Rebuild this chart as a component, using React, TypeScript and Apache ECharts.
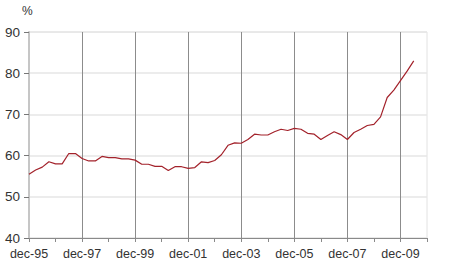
import React, { useEffect, useRef } from "react";
import * as echarts from "echarts";

const years = [95, 96, 97, 98, 99, 0, 1, 2, 3, 4, 5, 6, 7, 8, 9, 10];
const quarterMonths = ["mar", "jun", "sep", "dec"];
const yTicks = [40, 50, 60, 70, 80, 90];

// quarterly values, dec-95 .. jun-10
const values = [
  55.5, 56.5, 57.2, 58.5, 58.0, 58.0, 60.5, 60.5,
  59.3, 58.7, 58.7, 59.8, 59.5, 59.5, 59.2, 59.2,
  58.9, 57.9, 57.9, 57.4, 57.4, 56.4, 57.3, 57.3,
  56.9, 57.1, 58.5, 58.3, 58.8, 60.2, 62.5, 63.1,
  63.0, 63.9, 65.2, 65.0, 65.0, 65.8, 66.4, 66.1,
  66.6, 66.4, 65.4, 65.2, 63.9, 64.9, 65.8, 65.1,
  63.9, 65.6, 66.4, 67.3, 67.6, 69.4, 74.1, 75.9,
  78.2, 80.5, 83.0,
];

const pad = (y: number) => (y < 10 ? "0" + y : String(y));
const categories: string[] = ["dec-" + pad(years[0])];
for (let i = 1; i < years.length; i++) {
  for (const m of quarterMonths) categories.push(m + "-" + pad(years[i]));
}

export default function App() {
  const ref = useRef<HTMLDivElement>(null);
  useEffect(() => {
    if (!ref.current) return;
    const chart = echarts.init(ref.current, null, { renderer: "svg" });
    const font = "'Liberation Sans', Arial, sans-serif";
    chart.setOption({
      animation: false,
      title: {
        text: "%",
        left: 22,
        top: 5,
        padding: 0,
        textStyle: { fontSize: 12, fontWeight: "normal", color: "#333", fontFamily: font },
      },
      grid: {
        left: 29,
        right: 23,
        top: 32,
        bottom: 41,
        show: true,
        borderColor: "#e2e2e2",
        borderWidth: 1,
      },
      xAxis: {
        type: "category",
        data: categories,
        boundaryGap: false,
        axisLine: { lineStyle: { color: "#8a8a8a", width: 1 } },
        axisTick: { interval: 3, length: 4, lineStyle: { color: "#8a8a8a" } },
        axisLabel: {
          interval: 7,
          color: "#333",
          fontSize: 12.5,
          fontFamily: font,
          margin: 9,
        },
        splitLine: {
          show: true,
          interval: (idx: number) => idx % 8 === 0 && idx > 0,
          lineStyle: { color: "#8c8c8c", width: 1 },
        },
      },
      yAxis: {
        type: "value",
        min: 40,
        max: 90,
        interval: 10,
        axisLine: { show: true, lineStyle: { color: "#c6c6c6", width: 2 } },
        axisTick: { show: true, length: 5, lineStyle: { color: "#777" } },
        axisLabel: {
          color: "#333",
          fontSize: 13.5,
          fontFamily: font,
          margin: 9,
          formatter: (v: number) => (yTicks.includes(v) ? String(v) : ""),
        },
        splitLine: { lineStyle: { color: "#e6e6e6", width: 1.5 } },
      },
      series: [
        {
          type: "line",
          data: values,
          showSymbol: false,
          lineStyle: { color: "#a3222b", width: 1.2 },
        },
      ],
    });
    return () => chart.dispose();
  }, []);
  return (
    <div
      ref={ref}
      style={{ position: "fixed", left: 0, top: 0, width: 450, height: 279, background: "#fff" }}
    />
  );
}
